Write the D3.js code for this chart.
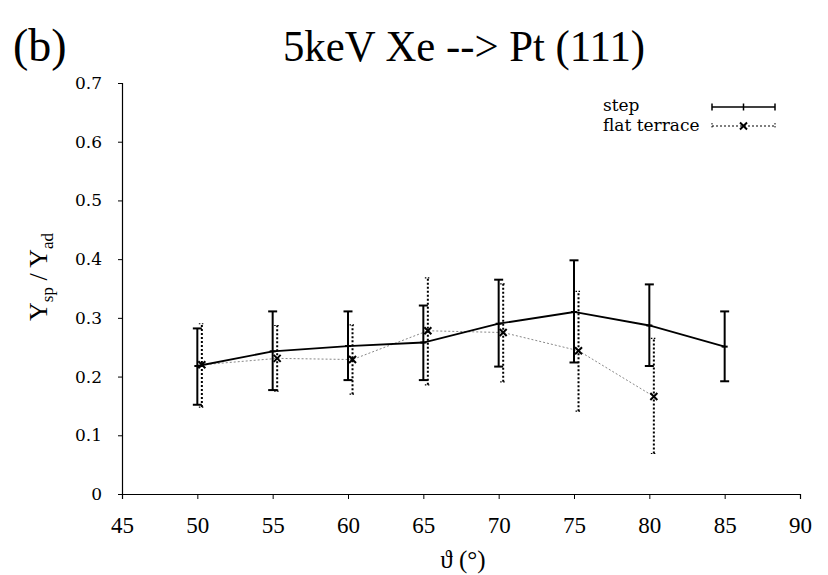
<!DOCTYPE html>
<html>
<head>
<meta charset="utf-8">
<script src="https://cdn.jsdelivr.net/npm/d3@7"></script>
<style>
  html, body { margin: 0; padding: 0; background: #fff; }
  svg { display: block; }
</style>
</head>
<body>
<svg id="chart" width="828" height="575"></svg>
<script>
// Sputter yield ratio vs. incidence angle, 5 keV Xe on Pt(111)
const angles = [50, 55, 60, 65, 70, 75, 80, 85];
const stepValues = [0.218, 0.243, 0.252, 0.258, 0.290, 0.310, 0.287, 0.251];
const stepLow    = [0.152, 0.177, 0.194, 0.194, 0.217, 0.224, 0.218, 0.192];
const stepHigh   = [0.282, 0.311, 0.311, 0.321, 0.365, 0.398, 0.357, 0.311];

const flatAngles = [50.3, 55.3, 60.3, 65.3, 70.3, 75.3, 80.3];
const flatValues = [0.220, 0.231, 0.229, 0.278, 0.275, 0.244, 0.166];
const flatLow    = [0.148, 0.175, 0.170, 0.186, 0.191, 0.141, 0.069];
const flatHigh   = [0.290, 0.287, 0.288, 0.368, 0.358, 0.345, 0.265];

const xTicks = [45, 50, 55, 60, 65, 70, 75, 80, 85, 90];
const yTicks = [0, 0.1, 0.2, 0.3, 0.4, 0.5, 0.6, 0.7];

const svg = d3.select("#chart");
const serif = "'Liberation Serif', 'Times New Roman', serif";
const bookSerif = "'DejaVu Serif', serif";

const x = d3.scaleLinear().domain([45, 90]).range([122, 800]);
const y = d3.scaleLinear().domain([0, 0.7]).range([494, 83]);

// Axes
const xAxis = svg.append("g").attr("transform", `translate(0,${y(0)})`)
  .call(d3.axisBottom(x).tickValues(xTicks).tickSize(5).tickPadding(18).tickFormat(d3.format("d")));
const yAxis = svg.append("g").attr("transform", `translate(${x(45)},0)`)
  .call(d3.axisLeft(y).tickValues(yTicks).tickSize(4).tickPadding(16).tickFormat(d => d === 0 ? "0" : d3.format(".1f")(d)));
[xAxis, yAxis].forEach(g => {
  g.selectAll("path.domain").attr("stroke", "#000").attr("stroke-width", 1.2);
  g.selectAll(".tick line").attr("stroke", "#000").attr("stroke-width", 1);
  g.selectAll(".tick text").attr("fill", "#000");
});
xAxis.selectAll(".tick text").style("font-family", serif).style("font-size", "23px");
yAxis.selectAll(".tick text").style("font-family", bookSerif).style("font-size", "17px");

// Titles
svg.append("text").attr("x", 13).attr("y", 61)
  .style("font-family", serif).style("font-size", "46px").text("(b)");
svg.append("text").attr("x", 464).attr("y", 61).attr("text-anchor", "middle")
  .attr("textLength", 362).attr("lengthAdjust", "spacingAndGlyphs")
  .style("font-family", serif).style("font-size", "44px").text("5keV Xe --> Pt (111)");

// Axis labels
svg.append("text").attr("x", 463).attr("y", 568).attr("text-anchor", "middle")
  .style("font-family", serif).style("font-size", "25px").text("ϑ (°)");
const yl = svg.append("text")
  .attr("transform", "translate(47,277) rotate(-90)").attr("text-anchor", "middle")
  .style("font-family", serif).style("font-size", "26px");
yl.append("tspan").text("Y");
yl.append("tspan").attr("dy", 6).style("font-size", "17px").text("sp");
yl.append("tspan").attr("dy", -6).text(" / Y");
yl.append("tspan").attr("dy", 6).style("font-size", "17px").text("ad");

// Flat terrace series (dotted)
const flat = flatAngles.map((a, i) => ({a, v: flatValues[i], lo: flatLow[i], hi: flatHigh[i]}));
svg.append("path").datum(flat)
  .attr("fill", "none").attr("stroke", "#888").attr("stroke-width", 1)
  .attr("stroke-dasharray", "2,2")
  .attr("d", d3.line().x(d => x(d.a)).y(d => y(d.v)));
const fg = svg.append("g").selectAll("g").data(flat).join("g");
fg.append("line")
  .attr("x1", d => x(d.a)).attr("x2", d => x(d.a))
  .attr("y1", d => y(d.lo)).attr("y2", d => y(d.hi))
  .attr("stroke", "#000").attr("stroke-width", 2).attr("stroke-dasharray", "2,2");
fg.selectAll("line.cap").data(d => [d.lo, d.hi].map(v => ({a: d.a, v}))).join("line")
  .attr("class", "cap")
  .attr("x1", d => x(d.a) - 3).attr("x2", d => x(d.a) + 3)
  .attr("y1", d => y(d.v)).attr("y2", d => y(d.v))
  .attr("stroke", "#000").attr("stroke-width", 1.2).attr("stroke-dasharray", "1.5,1.5");
fg.append("path")
  .attr("transform", d => `translate(${x(d.a)},${y(d.v)})`)
  .attr("d", "M-3.5,-3.5L3.5,3.5M-3.5,3.5L3.5,-3.5")
  .attr("stroke", "#000").attr("stroke-width", 2);

// Step series (solid)
const step = angles.map((a, i) => ({a, v: stepValues[i], lo: stepLow[i], hi: stepHigh[i]}));
svg.append("path").datum(step)
  .attr("fill", "none").attr("stroke", "#000").attr("stroke-width", 1.8)
  .attr("d", d3.line().x(d => x(d.a)).y(d => y(d.v)));
const sg = svg.append("g").selectAll("g").data(step).join("g");
sg.append("line")
  .attr("x1", d => x(d.a)).attr("x2", d => x(d.a))
  .attr("y1", d => y(d.lo)).attr("y2", d => y(d.hi))
  .attr("stroke", "#000").attr("stroke-width", 2);
sg.selectAll("line.cap").data(d => [d.lo, d.hi].map(v => ({a: d.a, v}))).join("line")
  .attr("class", "cap")
  .attr("x1", d => x(d.a) - 4.5).attr("x2", d => x(d.a) + 4.5)
  .attr("y1", d => y(d.v)).attr("y2", d => y(d.v))
  .attr("stroke", "#000").attr("stroke-width", 2);
sg.append("path")
  .attr("transform", d => `translate(${x(d.a)},${y(d.v)})`)
  .attr("d", "M-3,0L3,0")
  .attr("stroke", "#000").attr("stroke-width", 2);

// Legend
const legend = svg.append("g");
const lx1 = 712, lx2 = 775, lxm = 743.5;
const ly1 = 107, ly2 = 126;
legend.append("text").attr("x", 603).attr("y", 111)
  .style("font-family", bookSerif).style("font-size", "17px").text("step");
legend.append("text").attr("x", 603).attr("y", 131)
  .style("font-family", bookSerif).style("font-size", "17px").text("flat terrace");
legend.append("line").attr("x1", lx1).attr("x2", lx2).attr("y1", ly1).attr("y2", ly1)
  .attr("stroke", "#000").attr("stroke-width", 1.5);
[lx1, lxm, lx2].forEach(px => legend.append("line")
  .attr("x1", px).attr("x2", px).attr("y1", ly1 - 3.5).attr("y2", ly1 + 3.5)
  .attr("stroke", "#000").attr("stroke-width", 1.5));
legend.append("line").attr("x1", lx1).attr("x2", lx2).attr("y1", ly2).attr("y2", ly2)
  .attr("stroke", "#000").attr("stroke-width", 1.2).attr("stroke-dasharray", "2,2");
[lx1, lx2].forEach(px => legend.append("line")
  .attr("x1", px).attr("x2", px).attr("y1", ly2 - 3).attr("y2", ly2 + 3)
  .attr("stroke", "#000").attr("stroke-width", 1).attr("stroke-dasharray", "1.5,1.5"));
legend.append("path").attr("transform", `translate(${lxm},${ly2})`)
  .attr("d", "M-3.5,-3.5L3.5,3.5M-3.5,3.5L3.5,-3.5")
  .attr("stroke", "#000").attr("stroke-width", 2);
</script>
</body>
</html>
